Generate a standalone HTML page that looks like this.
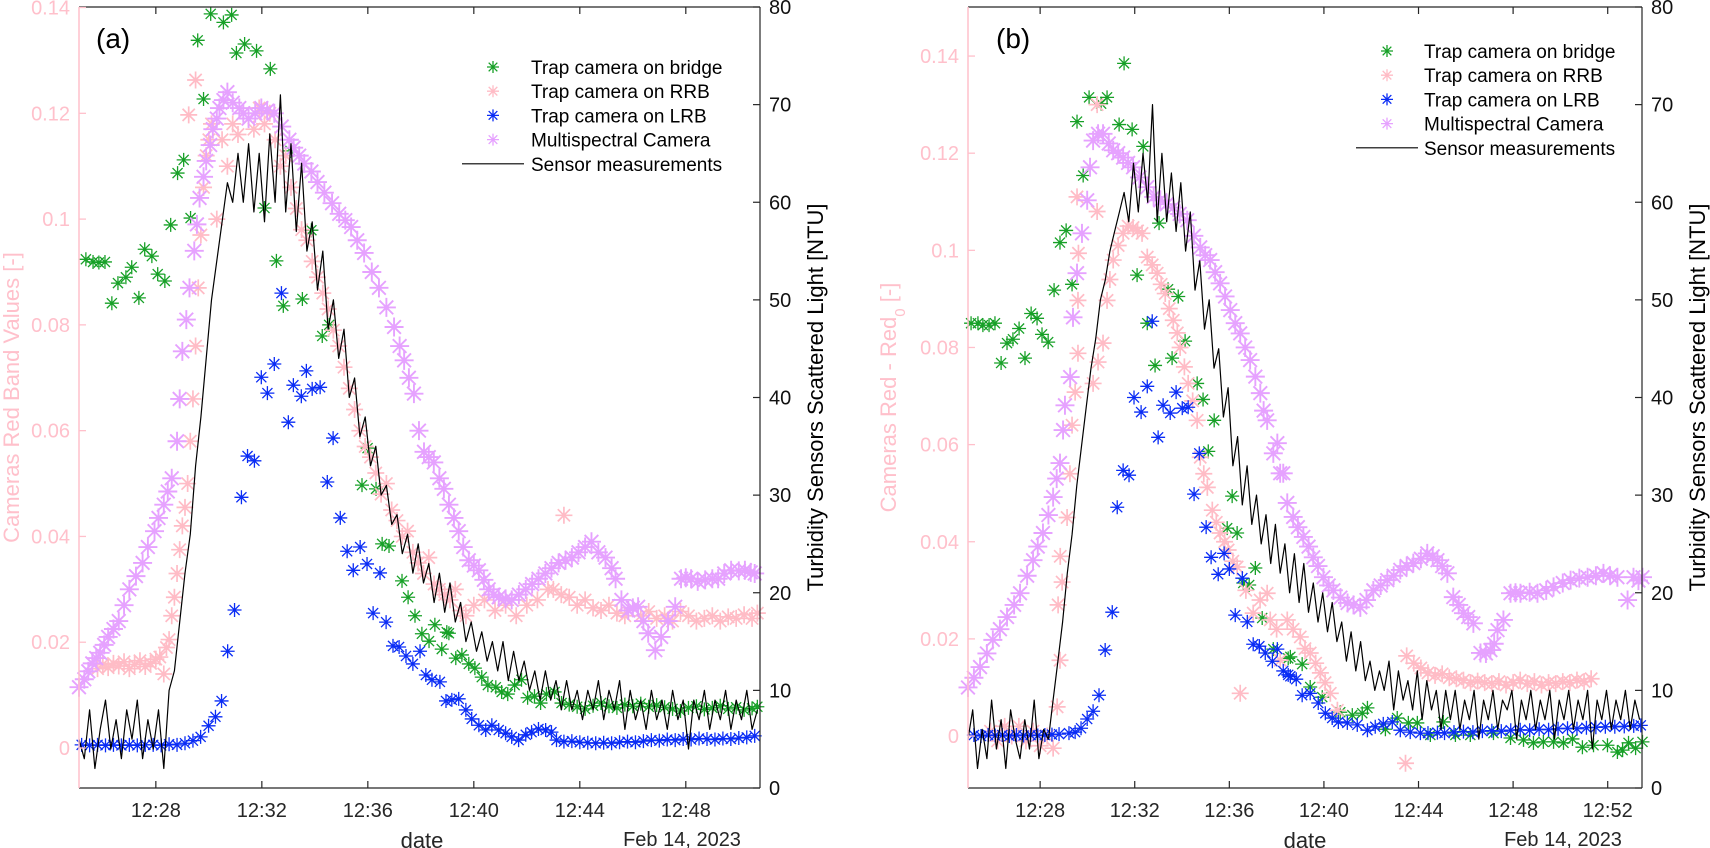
<!DOCTYPE html>
<html><head><meta charset="utf-8"><title>Camera vs sensor turbidity</title>
<style>
html,body{margin:0;padding:0;background:#fff;}
svg{display:block;font-family:"Liberation Sans",Arial,sans-serif;}
</style></head>
<body>
<svg id="chart" width="1710" height="848" viewBox="0 0 1710 848" xmlns="http://www.w3.org/2000/svg"></svg>
<script>
// ---------------- Panel (a) data ----------------
const aGreen=[[25.36,.0924],[25.63,.0919],[25.85,.0918],[26.08,.0919],[26.34,.0841],[26.57,.0879],[26.87,.0890],[27.09,.0909],[27.36,.0851],[27.58,.0943],[27.85,.0930],[28.07,.0896],[28.34,.0883],[28.56,.0989],[28.82,.1087],[29.05,.1112],[29.31,.1002],[29.58,.1338],[29.80,.1227],[30.07,.1388],[30.55,.1372],[30.86,.1386],[31.04,.1314],[31.35,.1331],[31.80,.1318],[32.32,.1284],[32.10,.1021],[32.55,.0921],[32.81,.0836],[33.08,.1129],[33.53,.0849],[33.87,.0979],[34.28,.0779],[34.54,.0800],[35.78,.0497],[35.99,.0567],[36.31,.0490],[36.54,.0386],[36.80,.0382],[37.29,.0316],[37.52,.0285],[37.78,.0250],[38.04,.0216],[38.31,.0202],[38.53,.0233],[38.79,.0187],[38.98,.0219],[39.06,.0217],[39.32,.0170],[39.55,.0176],[39.81,.0159],[40.04,.0151],[40.30,.0134],[40.53,.0119],[40.83,.0115],[41.05,.0106],[41.28,.0102],[41.54,.0119],[41.80,.0129],[42.03,.0095],[42.29,.0098],[42.52,.0085],[42.74,.0102],[43.05,.0106],[43.31,.0085],[43.6,.0082],[43.9,.0078],[44.2,.0074],[44.5,.0080],[44.8,.0085],[45.1,.0079],[45.4,.0076],[45.7,.0082],[46.0,.0079],[46.3,.0084],[46.6,.0078],[46.9,.0081],[47.2,.0077],[47.5,.0074],[47.8,.0070],[48.1,.0076],[48.4,.0079],[48.7,.0073],[49.0,.0076],[49.3,.0080],[49.6,.0074],[49.9,.0077],[50.2,.0072],[50.5,.0075],[50.7,.0078]];
const aPink=[[25.8,.0150],[26.0,.0158],[26.2,.0152],[26.4,.0160],[26.6,.0155],[26.8,.0163],[27.0,.0150],[27.2,.0158],[27.4,.0165],[27.6,.0154],[27.8,.0160],[28.0,.0168],[28.15,.0172],[28.3,.0140],[28.4,.0190],[28.5,.0205],[28.6,.0250],[28.7,.0285],[28.8,.0330],[28.9,.0375],[29.0,.0420],[29.1,.0455],[29.2,.0500],[29.3,.0580],[29.4,.0660],[29.5,.0760],[29.6,.0870],[29.7,.0970],[29.8,.1060],[29.9,.1120],[30.0,.1150],[30.1,.1180],[29.5,.1263],[29.24,.1197],[30.3,.1000],[30.5,.1150],[30.7,.1100],[30.9,.1180],[31.1,.1160],[31.3,.1200],[31.5,.1190],[31.7,.1170],[31.9,.1210],[32.1,.1180],[32.3,.1200],[32.5,.1150],[32.7,.1100],[32.9,.1120],[33.1,.1060],[33.3,.1020],[33.5,.0980],[33.7,.0960],[33.9,.0920],[34.1,.0890],[34.3,.0860],[34.5,.0830],[34.7,.0790],[34.9,.0760],[35.1,.0720],[35.3,.0680],[35.5,.0640],[35.7,.0600],[35.9,.0570],[36.1,.0550],[36.3,.0520],[36.5,.0480],[36.7,.0500],[36.9,.0450],[37.1,.0430],[37.3,.0400],[37.5,.0410],[37.7,.0370],[37.9,.0350],[38.1,.0330],[38.3,.0360],[38.5,.0310],[38.7,.0300],[38.9,.0290],[39.1,.0280],[39.3,.0300],[39.5,.0260],[39.7,.0250],[40.0,.0270],[40.4,.0280],[40.8,.0260],[41.2,.0270],[41.6,.0250],[42.0,.0270],[42.4,.0280],[42.8,.0300],[43.0,.0300],[43.3,.0290],[43.4,.0440],[43.6,.0285],[43.9,.0270],[44.2,.0280],[44.5,.0265],[44.8,.0260],[45.1,.0270],[45.4,.0255],[45.7,.0250],[46.0,.0265],[46.3,.0250],[46.6,.0258],[46.9,.0245],[47.2,.0250],[47.5,.0240],[47.8,.0258],[48.1,.0250],[48.4,.0240],[48.7,.0245],[49.0,.0250],[49.3,.0240],[49.6,.0248],[49.9,.0245],[50.2,.0252],[50.5,.0245],[50.7,.0255]];
const aBlue=[[25.2,.0006],[25.5,.0005],[25.8,.0006],[26.1,.0005],[26.4,.0006],[26.7,.0005],[27.0,.0006],[27.3,.0005],[27.6,.0006],[27.9,.0006],[28.2,.0005],[28.5,.0007],[28.8,.0006],[29.1,.0009],[29.4,.0014],[29.69,.0021],[29.99,.0042],[30.25,.0059],[30.48,.0089],[30.71,.0183],[30.97,.0261],[31.23,.0474],[31.46,.0552],[31.72,.0543],[31.98,.0701],[32.21,.0671],[32.47,.0726],[32.74,.0860],[33.0,.0616],[33.19,.0686],[33.49,.0665],[33.68,.0713],[33.90,.0679],[34.20,.0682],[34.47,.0503],[34.69,.0586],[34.96,.0435],[35.22,.0372],[35.45,.0336],[35.71,.0380],[35.97,.0348],[36.20,.0255],[36.46,.0331],[36.69,.0238],[36.95,.0193],[37.18,.0191],[37.44,.0174],[37.70,.0159],[37.97,.0183],[38.19,.0138],[38.42,.0129],[38.72,.0125],[38.95,.0089],[39.17,.0091],[39.43,.0093],[39.70,.0072],[39.92,.0055],[40.19,.0043],[40.45,.0034],[40.68,.0043],[40.94,.0034],[41.20,.0028],[41.43,.0021],[41.69,.0015],[41.96,.0025],[42.18,.0030],[42.44,.0036],[42.71,.0034],[42.93,.0030],[43.12,.0015],[43.4,.0012],[43.7,.0013],[44.0,.0011],[44.3,.0010],[44.6,.0009],[44.9,.0010],[45.2,.0009],[45.5,.0011],[45.8,.0012],[46.1,.0011],[46.4,.0013],[46.7,.0015],[47.0,.0014],[47.3,.0016],[47.6,.0015],[47.9,.0017],[48.2,.0016],[48.5,.0018],[48.8,.0017],[49.1,.0016],[49.4,.0018],[49.7,.0017],[50.0,.0019],[50.3,.0020],[50.6,.0023]];
const aViolet=[[25.1,.0115],[25.3,.013],[25.45,.0145],[25.6,.016],[25.75,.017],[25.9,.018],[26.05,.0195],[26.2,.021],[26.4,.0225],[26.6,.024],[26.8,.027],[27.0,.030],[27.25,.0325],[27.5,.035],[27.7,.038],[27.95,.041],[28.1,.0435],[28.3,.046],[28.45,.0485],[28.6,.051],[28.8,.058],[28.9,.066],[29.0,.075],[29.15,.081],[29.27,.087],[29.45,.094],[29.55,.099],[29.65,.104],[29.8,.108],[29.9,.111],[30.05,.114],[30.15,.117],[30.3,.119],[30.4,.121],[30.55,.1225],[30.7,.124],[30.9,.122],[31.15,.121],[31.3,.120],[31.5,.119],[31.75,.120],[31.98,.121],[32.2,.1205],[32.47,.120],[32.75,.1175],[33.04,.115],[33.2,.1135],[33.41,.112],[33.6,.1105],[33.87,.109],[34.1,.107],[34.36,.105],[34.65,.103],[34.92,.101],[35.15,.0998],[35.37,.0985],[35.6,.096],[35.86,.0936],[36.15,.090],[36.42,.087],[36.7,.0833],[36.99,.0796],[37.2,.076],[37.37,.0733],[37.55,.070],[37.74,.067],[37.93,.060],[38.12,.056],[38.3,.055],[38.49,.054],[38.7,.051],[38.87,.049],[39.06,.046],[39.25,.0435],[39.43,.041],[39.6,.038],[39.81,.0355],[40.0,.0345],[40.19,.0336],[40.38,.0318],[40.56,.030],[40.75,.029],[40.94,.0285],[41.2,.0282],[41.43,.028],[41.7,.029],[41.96,.030],[42.2,.031],[42.44,.032],[42.7,.033],[42.93,.034],[43.2,.035],[43.46,.0355],[43.7,.036],[43.95,.037],[44.2,.038],[44.44,.039],[44.7,.037],[44.97,.036],[45.2,.034],[45.35,.032],[45.57,.028],[45.83,.026],[46.0,.0265],[46.2,.0267],[46.4,.024],[46.58,.0217],[46.85,.0185],[47.07,.021],[47.33,.024],[47.6,.0267],[47.82,.032],[48.0,.0322],[48.2,.032],[48.45,.0315],[48.73,.0318],[49.0,.032],[49.22,.032],[49.45,.033],[49.71,.0336],[50.0,.0335],[50.23,.0336],[50.45,.0332],[50.6,.033]];
const aSensorStart=25.1, aSensorStep=0.2;
const aSensor=[5,3,8,2,6,9,4,7,3,8,5,9,3,7,4,8,2,10,12,17,22,26,33,38,44,50,54,58,62,60,65,60,66,59,65,58,67,60,71,59,66,57,64,55,58,51,55,47,50,44,47,40,42,36,38,33,35,30,31,27,28,24,26,22,25,21,23,19,22,18,21,17,19,15,17,14,16,13,15,12,15,11,14,11,13,10,12,9,12,9,11,8,11,8,10,7,10,8,11,7,10,8,11,6,10,7,9,6,10,7,9,6,10,7,9,4,9,7,10,6,9,7,10,6,9,7,10,6,8];

// ---------------- Panel (b) data ----------------
const bGreen=[[25.08,.0850],[25.37,.0850],[25.58,.0846],[25.84,.0846],[26.09,.0850],[26.35,.0768],[26.60,.0809],[26.85,.0817],[27.11,.0839],[27.36,.0778],[27.62,.0870],[27.87,.0860],[28.08,.0827],[28.34,.0811],[28.59,.0918],[28.84,.1016],[29.10,.1041],[29.35,.0930],[29.56,.1265],[29.82,.1154],[30.07,.1315],[30.58,.1302],[30.83,.1315],[31.34,.1259],[31.55,.1385],[31.89,.1249],[32.10,.0949],[32.36,.1214],[32.53,.0850],[32.86,.0763],[33.03,.1056],[33.41,.0920],[33.58,.0778],[33.84,.0905],[34.13,.0813],[34.64,.0726],[34.89,.0693],[35.11,.0586],[35.36,.0650],[35.91,.0428],[36.12,.0494],[36.33,.0418],[36.59,.0315],[36.84,.0311],[37.10,.0346],[37.39,.0243],[37.86,.0179],[38.49,.0160],[38.58,.0163],[39.08,.0148],[39.42,.0101],[39.93,.0080],[40.69,.0049],[41.20,.0043],[41.62,.0047],[41.84,.0058],[42.60,.0014],[43.10,.0037],[43.57,.0027],[43.95,.0027],[44.50,.0002],[45.05,.0029],[45.56,.0002],[46.19,.0002],[47.17,.0006],[47.89,-.0004],[48.44,-.0008],[48.86,-.0014],[49.28,-.0012],[49.71,-.0012],[50.13,-.0014],[50.51,-.0006],[50.93,-.0023],[51.40,-.0019],[51.99,-.0019],[52.41,-.0033],[52.63,-.0029],[52.88,-.0014],[53.18,-.0025],[53.47,-.0012]];
const bPink=[[25.9,.001],[26.2,-.001],[26.5,.002],[26.8,.000],[27.1,.002],[27.4,-.001],[27.7,.001],[28.0,-.002],[28.3,.000],[28.55,-.0025],[28.72,.006],[28.84,.0156],[28.76,.027],[28.93,.0317],[28.85,.037],[29.14,.045],[29.26,.054],[29.35,.064],[29.48,.0708],[29.6,.0788],[29.6,.0897],[29.62,.0994],[29.56,.111],[30.41,.108],[30.41,.130],[30.24,.0726],[30.45,.077],[30.66,.0809],[30.83,.0897],[30.95,.094],[31.09,.098],[31.3,.101],[31.51,.1035],[31.72,.105],[31.93,.1047],[32.12,.104],[32.31,.1035],[32.53,.0986],[32.74,.097],[32.95,.0953],[33.12,.093],[33.29,.0911],[33.46,.088],[33.63,.0856],[33.8,.083],[33.92,.080],[34.1,.076],[34.26,.0726],[34.45,.069],[34.64,.065],[34.77,.0574],[34.92,.054],[35.07,.0512],[35.28,.0465],[35.45,.044],[35.61,.0418],[35.8,.040],[35.95,.0383],[36.15,.036],[36.33,.0348],[36.46,.0088],[36.7,.030],[37.01,.0253],[37.3,.028],[37.6,.0294],[37.73,.0239],[38.0,.022],[38.15,.0156],[38.45,.0239],[38.7,.022],[39.0,.0204],[39.2,.018],[39.42,.0171],[39.65,.015],[39.85,.013],[40.05,.011],[40.27,.0088],[40.57,.0053],[43.45,-.0056],[43.5,.0165],[43.8,.0150],[44.1,.0140],[44.4,.0130],[44.7,.0125],[45.0,.0128],[45.3,.0120],[45.6,.0118],[45.9,.0115],[46.2,.0110],[46.5,.0113],[46.8,.0110],[47.1,.0108],[47.4,.0112],[47.7,.0105],[48.0,.0110],[48.3,.0115],[48.6,.0108],[48.9,.0112],[49.2,.0105],[49.5,.0110],[49.8,.0108],[50.1,.0112],[50.4,.0110],[50.7,.0115],[51.0,.0112],[51.3,.0118]];
const bBlue=[[25.2,.0002],[25.5,.0000],[25.8,.0002],[26.1,.0001],[26.4,.0002],[26.7,.0000],[27.0,.0002],[27.3,.0001],[27.6,.0002],[27.9,.0001],[28.2,.0002],[28.5,.0003],[28.8,.0004],[29.22,.0006],[29.48,.0008],[29.73,.0016],[29.99,.0035],[30.24,.0051],[30.49,.0084],[30.75,.0177],[31.05,.0255],[31.26,.0471],[31.51,.0547],[31.76,.0537],[31.97,.0697],[32.27,.0667],[32.53,.0720],[32.74,.0854],[32.99,.0615],[33.20,.0681],[33.50,.0665],[33.75,.0708],[34.01,.0675],[34.26,.0677],[34.51,.0498],[34.73,.0582],[35.02,.0430],[35.23,.0368],[35.53,.0333],[35.78,.0376],[36.0,.0344],[36.25,.0249],[36.55,.0325],[36.76,.0235],[37.01,.0189],[37.27,.0185],[37.52,.0171],[37.82,.0154],[38.03,.0179],[38.28,.0134],[38.49,.0126],[38.58,.0123],[38.83,.0117],[39.08,.0084],[39.42,.0088],[39.76,.0068],[40.06,.0047],[40.35,.0037],[40.61,.0029],[40.99,.0027],[41.41,.0023],[41.84,.0012],[42.17,.0019],[42.51,.0025],[42.89,.0029],[43.23,.0012],[43.65,.0008],[44.08,.0006],[44.4,.0006],[44.8,.0007],[45.1,.0006],[45.5,.0008],[45.9,.0009],[46.3,.0008],[46.7,.0010],[47.1,.0011],[47.5,.0010],[47.9,.0012],[48.3,.0013],[48.7,.0012],[49.1,.0014],[49.5,.0013],[49.9,.0015],[50.3,.0016],[50.7,.0015],[51.1,.0017],[51.5,.0018],[51.9,.0019],[52.3,.0019],[52.7,.0020],[53.1,.0021],[53.4,.0022]];
const bViolet=[[24.95,.0100],[25.2,.012],[25.46,.0142],[25.75,.017],[26.0,.0198],[26.3,.022],[26.6,.0245],[26.9,.027],[27.15,.0294],[27.45,.033],[27.7,.0362],[27.9,.039],[28.12,.0418],[28.35,.0455],[28.55,.0492],[28.7,.053],[28.84,.0562],[28.97,.063],[29.05,.0681],[29.27,.0739],[29.39,.0862],[29.56,.0953],[29.77,.1035],[29.99,.1103],[30.11,.1171],[30.24,.1226],[30.45,.124],[30.66,.124],[30.9,.122],[31.09,.1206],[31.3,.120],[31.51,.1191],[31.72,.118],[31.93,.1171],[32.2,.115],[32.53,.113],[32.8,.111],[33.08,.1103],[33.35,.1095],[33.63,.1088],[33.9,.1075],[34.22,.1062],[34.5,.103],[34.77,.1006],[34.98,.099],[35.19,.098],[35.4,.0955],[35.61,.0932],[35.82,.0905],[36.04,.0877],[36.25,.085],[36.46,.0829],[36.67,.080],[36.88,.0774],[37.1,.074],[37.31,.0706],[37.45,.067],[37.6,.065],[37.86,.0582],[38.03,.0603],[38.15,.0541],[38.28,.0541],[38.45,.048],[38.7,.0451],[38.9,.043],[39.13,.041],[39.35,.039],[39.55,.0368],[39.75,.035],[39.98,.0327],[40.2,.031],[40.4,.030],[40.7,.0285],[41.0,.0274],[41.25,.027],[41.54,.0265],[41.8,.028],[42.09,.030],[42.4,.031],[42.68,.0321],[42.95,.033],[43.23,.0342],[43.5,.035],[43.78,.0356],[44.1,.0365],[44.37,.0376],[44.6,.037],[44.8,.0362],[45.0,.035],[45.22,.0335],[45.47,.0286],[45.7,.027],[45.9,.0253],[46.1,.0245],[46.32,.0232],[46.62,.0171],[46.85,.017],[47.04,.0177],[47.2,.019],[47.34,.0218],[47.59,.0239],[47.89,.0294],[48.1,.0295],[48.31,.0294],[48.7,.0296],[49.03,.0294],[49.4,.030],[49.71,.0307],[50.1,.0315],[50.43,.0321],[50.8,.0325],[51.15,.0327],[51.5,.033],[51.82,.0335],[52.1,.033],[52.41,.0327],[52.84,.028],[53.09,.0327],[53.3,.032],[53.47,.0327]];
const bSensorStart=24.95, bSensorStep=0.2;
const bSensor=[5,8,2,6,3,9,4,7,2,8,5,3,7,4,9,3,6,5,9,13,17,22,26,31,35,39,43,46,50,52,55,57,59,61,58,64,59,65,60,70,58,65,58,63,57,62,55,59,51,54,47,50,43,45,38,41,33,36,29,33,27,30,25,28,23,27,22,25,20,24,19,23,18,21,17,20,16,19,15,17,13,16,12,15,11,13,10,12,10,13,8,12,9,11,8,12,7,11,8,10,6,10,7,10,6,9,7,10,5,9,7,10,6,9,8,10,5,9,7,10,6,9,7,10,5,9,7,10,6,9,7,10,4,9,7,10,6,9,7,10,6,9,7];

// tick label arrays
const leftTicks=[0,0.02,0.04,0.06,0.08,0.1,0.12,0.14];
const rightTicks=[0,10,20,30,40,50,60,70,80];
const aTimeTicks=[28,32,36,40,44,48];
const bTimeTicks=[28,32,36,40,44,48,52];
const legendLabels=["Trap camera on bridge","Trap camera on RRB","Trap camera on LRB","Multispectral Camera","Sensor measurements"];

const COL={green:"#17a027",pink:"#ffbcc6",blue:"#0a2cf5",violet:"#e6a2ff",axisPink:"#ffc0cb",dark:"#262626"};
const SIZE={green:7,pink:8.5,blue:7,violet:9.5};
const SW={green:1.3,pink:1.7,blue:1.3,violet:1.9};
const NS="http://www.w3.org/2000/svg";
const svg=document.getElementById('chart');
function mk(tag,attrs,parent){const e=document.createElementNS(NS,tag);for(const k in attrs)e.setAttribute(k,attrs[k]);(parent||svg).appendChild(e);return e;}

function star(g,x,y,r,color,sw){
  const d=r*0.72;
  return mk('path',{d:`M${x-r},${y}H${x+r}M${x},${y-r}V${y+r}M${x-d},${y-d}L${x+d},${y+d}M${x-d},${y+d}L${x+d},${y-d}`,stroke:color,'stroke-width':sw||1.3,fill:'none'},g);
}

function panel(cfg){
  const g=mk('g',{});
  
  
  const X=t=>cfg.x0+(t-cfg.tmin)/(cfg.tmax-cfg.tmin)*(cfg.x1-cfg.x0);
  const YL=v=>cfg.y1-(v-cfg.vmin)/(cfg.vmax-cfg.vmin)*(cfg.y1-cfg.y0);
  const YR=n=>cfg.y1-n/80*(cfg.y1-cfg.y0);

  const series=[['green',cfg.green,'bridge'],['pink',cfg.pink,'rrb'],['blue',cfg.blue,'lrb'],['violet',cfg.violet,'multispectral']];
  series.forEach(([c,data,nm])=>{
    const sg=mk('g',{},g);
    
    
    data.forEach(([t,v])=>{
      const p=star(sg,X(t),YL(v),SIZE[c],COL[c],SW[c]);
      
      
    });
  });
  let d='';
  cfg.sensor.forEach((n,i)=>{const t=cfg.sStart+i*cfg.sStep;d+=(i?'L':'M')+X(t).toFixed(1)+','+YR(n).toFixed(1);});
  const ln=mk('path',{d:d,stroke:'#000','stroke-width':1.2,fill:'none','stroke-linejoin':'round'},g);
  
  

  const ax=mk('g',{},g);
  
  
  mk('line',{x1:cfg.x0,y1:cfg.y0,x2:cfg.x1,y2:cfg.y0,stroke:COL.dark,'stroke-width':1.2},ax);
  mk('line',{x1:cfg.x0,y1:cfg.y1,x2:cfg.x1,y2:cfg.y1,stroke:COL.dark,'stroke-width':1.2},ax);
  mk('line',{x1:cfg.x0,y1:cfg.y0,x2:cfg.x0,y2:cfg.y1,stroke:COL.axisPink,'stroke-width':1.5},ax);
  mk('line',{x1:cfg.x1,y1:cfg.y0,x2:cfg.x1,y2:cfg.y1,stroke:COL.dark,'stroke-width':1.2},ax);
  cfg.xt.forEach(m=>{
    const x=X(m);
    mk('line',{x1:x,y1:cfg.y1,x2:x,y2:cfg.y1-7,stroke:COL.dark,'stroke-width':1.2},ax);
    mk('line',{x1:x,y1:cfg.y0,x2:x,y2:cfg.y0+7,stroke:COL.dark,'stroke-width':1.2},ax);
    const tx=mk('text',{x:x,y:cfg.y1+29,'text-anchor':'middle','font-size':20,fill:COL.dark},ax);
    tx.textContent='12:'+String(m).padStart(2,'0');
    
    
  });
  leftTicks.forEach(v=>{
    const y=YL(v);
    mk('line',{x1:cfg.x0,y1:y,x2:cfg.x0+7,y2:y,stroke:COL.axisPink,'stroke-width':1.3},ax);
    const tx=mk('text',{x:cfg.x0-9,y:y+7,'text-anchor':'end','font-size':20,fill:COL.axisPink},ax);
    tx.textContent=String(v);
    
    
  });
  rightTicks.forEach(n=>{
    const y=YR(n);
    mk('line',{x1:cfg.x1,y1:y,x2:cfg.x1-7,y2:y,stroke:COL.dark,'stroke-width':1.2},ax);
    const tx=mk('text',{x:cfg.x1+9,y:y+7,'font-size':20,fill:'#111'},ax);
    tx.textContent=String(n);
    
    
  });
  const cy=(cfg.y0+cfg.y1)/2;
  const ll=mk('text',{x:0,y:0,transform:`translate(${cfg.llx},${cy}) rotate(-90)`,'text-anchor':'middle','font-size':22,fill:COL.axisPink},g);
  ll.innerHTML=cfg.leftLabel;
  
  
  const rl=mk('text',{x:0,y:0,transform:`translate(${cfg.rlx},${cy}) rotate(-90)`,'text-anchor':'middle','font-size':22,fill:'#000'},g);
  rl.textContent='Turbidity Sensors Scattered Light [NTU]';
  
  
  const dl=mk('text',{x:cfg.datex,y:848,'text-anchor':'middle','font-size':22,fill:COL.dark},g);
  dl.textContent='date';
  
  
  const fd=mk('text',{x:cfg.febx,y:846,'text-anchor':'middle','font-size':20,fill:COL.dark},g);
  fd.textContent='Feb 14, 2023';
  
  
  const pl=mk('text',{x:cfg.tagx,y:48,'font-size':28,fill:'#000'},g);
  pl.textContent='('+cfg.id+')';
  
  

  const lg=mk('g',{},g);
  
  
  const cols=['green','pink','blue','violet'];
  legendLabels.forEach((lab,i)=>{
    const y=cfg.legy+i*24.2;
    const eg=mk('g',{},lg);
    
    
    if(i<4) star(eg,cfg.legmx,y,6,COL[cols[i]],1.3);
    else mk('line',{x1:cfg.legmx-31,y1:y,x2:cfg.legmx+31,y2:y,stroke:'#000','stroke-width':1.2},eg);
    const t=mk('text',{x:cfg.legtx,y:y+7,'font-size':19,fill:'#000'},eg);
    t.textContent=lab;
  });
}

panel({id:'a',x0:79,x1:760,y0:7,y1:788,tmin:25.1,tmax:50.8,vmin:-0.00756,vmax:0.1401,
  green:aGreen,pink:aPink,blue:aBlue,violet:aViolet,sensor:aSensor,sStart:aSensorStart,sStep:aSensorStep,
  xt:aTimeTicks,llx:19,rlx:823,datex:422,febx:682,tagx:96,legy:67,legmx:493,legtx:531,
  leftLabel:'Cameras Red Band Values [-]'});
panel({id:'b',x0:968,x1:1642,y0:7,y1:788,tmin:24.95,tmax:53.45,vmin:-0.0107,vmax:0.1501,
  green:bGreen,pink:bPink,blue:bBlue,violet:bViolet,sensor:bSensor,sStart:bSensorStart,sStep:bSensorStep,
  xt:bTimeTicks,llx:896,rlx:1705,datex:1305,febx:1563,tagx:996,legy:51,legmx:1387,legtx:1424,
  leftLabel:'Cameras Red - Red<tspan baseline-shift="sub" font-size="15">0</tspan> [-]'});
</script>
</body></html>
